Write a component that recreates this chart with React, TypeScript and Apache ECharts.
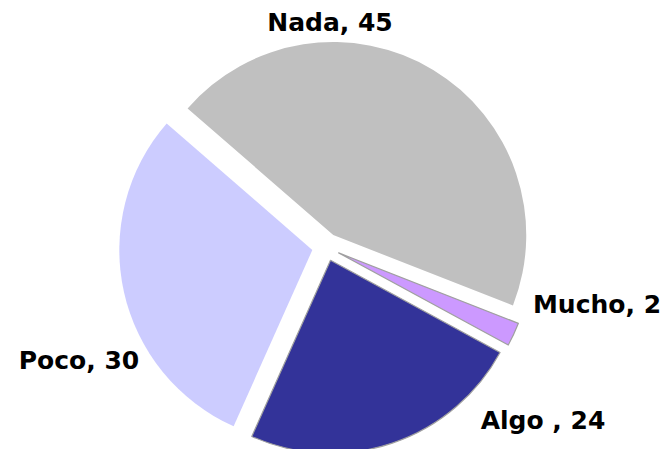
import React, { useEffect, useRef } from "react";
import * as echarts from "echarts";

const categories = ["Nada", "Mucho", "Algo ", "Poco"];
const values = [45, 2, 24, 30];
const colors = ["#C0C0C0", "#CC99FF", "#333399", "#CCCCFF"];
const borders = ["none", "#A0A0A0", "#A0A0A0", "none"];

const labelPos: [number, number][] = [
  [330, 22],
  [597, 304],
  [543, 420],
  [79, 360],
];

export default function App() {
  const ref = useRef<HTMLDivElement>(null);
  useEffect(() => {
    if (!ref.current) return;
    const chart = echarts.init(ref.current, null, { renderer: "svg" });
    chart.setOption({
      animation: false,
      backgroundColor: "#ffffff",
      graphic: categories.map((c, i) => ({
        type: "text",
        x: labelPos[i][0],
        y: labelPos[i][1],
        z: 10,
        style: {
          text: `${c}, ${values[i]}`,
          fill: "#000",
          font: "bold 25px 'DejaVu Sans', sans-serif",
          textAlign: "center",
          textVerticalAlign: "middle",
        },
      })),
      series: [
        {
          type: "pie",
          center: [326, 247],
          radius: [0, 193],
          startAngle: 139,
          clockwise: true,
          selectedMode: "multiple",
          selectedOffset: 14,
          label: { show: false },
          labelLine: { show: false },
          emphasis: { disabled: true },
          data: categories.map((c, i) => ({
            name: c,
            value: values[i],
            selected: true,
            itemStyle: {
              color: colors[i],
              borderColor: borders[i] === "none" ? undefined : borders[i],
              borderWidth: borders[i] === "none" ? 0 : 1.2,
            },
          })),
        },
      ],
    });
    return () => chart.dispose();
  }, []);
  return (
    <div
      ref={ref}
      style={{ position: "fixed", left: 0, top: 0, width: 664, height: 449 }}
    />
  );
}
